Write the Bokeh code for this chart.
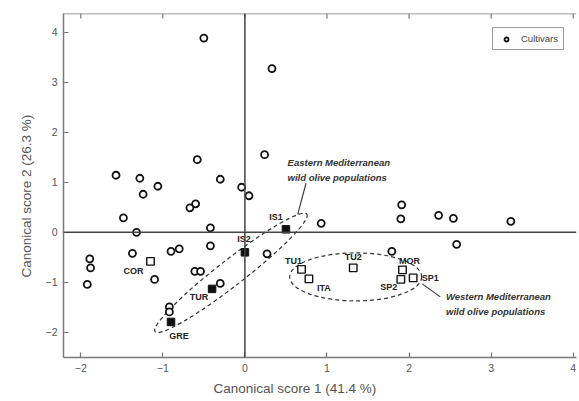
from bokeh.plotting import figure
from bokeh.models import (Span, Label, Title, LinearAxis, Legend, LegendItem,
                          Range1d, FixedTicker)
from bokeh.core.properties import value
from bokeh.embed import file_html
from bokeh.resources import INLINE

# ---- data ----
cult_x = [-0.50, 0.33, 0.24, -0.58, -1.57, -1.28, -0.30, -1.06, -0.04, -1.24, 0.05,
          1.91, -0.60, -0.67, -1.48, 1.90, 2.36, 2.54, 3.24, 0.93, -0.42, -1.32,
          2.58, -0.42, -1.37, -0.90, -0.80, 0.27, 1.79, -1.89, -1.88, -0.61, -0.54,
          -1.10, -1.92, -0.30, -0.92, -0.92]
cult_y = [3.88, 3.27, 1.55, 1.45, 1.14, 1.08, 1.06, 0.92, 0.90, 0.76, 0.73,
          0.55, 0.57, 0.49, 0.29, 0.27, 0.34, 0.28, 0.22, 0.18, 0.09, 0.00,
          -0.24, -0.27, -0.42, -0.38, -0.33, -0.43, -0.38, -0.53, -0.71, -0.78, -0.78,
          -0.94, -1.04, -1.02, -1.49, -1.59]

east_names = ["IS1", "IS2", "TUR", "GRE"]
east_x = [0.50, 0.00, -0.40, -0.90]
east_y = [0.06, -0.40, -1.13, -1.79]

west_names = ["COR", "TU1", "ITA", "TU2", "MOR", "SP2", "SP1"]
west_x = [-1.15, 0.69, 0.78, 1.32, 1.92, 1.90, 2.05]
west_y = [-0.58, -0.74, -0.93, -0.71, -0.75, -0.94, -0.91]

x_ticks = [-2, -1, 0, 1, 2, 3, 4]
y_ticks = [-2, -1, 0, 1, 2, 3, 4]
tick_overrides = {-2: "\u22122", -1: "\u22121"}

# label offsets (screen px) - styling only
east_dx = [-10, -1, -13, 8]
east_dy = [-12, -13, 8, 14]
west_dx = [-17, -8, 15, 0, 7, -12, 17]
west_dy = [10, -8, 9, -11, -9, 8, 0]

FONT = "Liberation Sans"
GRAY = "#555555"
AX = "#7a7a7a"
X0, X1 = -2.21, 4.04
Y0, Y1 = -2.5, 4.37

p = figure(width=579, height=401, output_backend="svg", toolbar_location=None,
           x_range=Range1d(X0, X1), y_range=Range1d(Y0, Y1),
           x_axis_location=None, y_axis_location=None,
           min_border_left=63, min_border_right=3, min_border_top=13,
           min_border_bottom=44)
p.outline_line_color = None
p.xgrid.grid_line_color = None
p.ygrid.grid_line_color = None
p.background_fill_color = "white"


def style_axis(ax):
    ax.axis_line_color = AX
    ax.axis_line_width = 1.5
    ax.major_tick_line_color = AX
    ax.major_tick_line_width = 1.2
    ax.major_tick_in = 5
    ax.major_tick_out = 0
    ax.minor_tick_line_color = None
    ax.major_label_text_font = FONT
    ax.major_label_text_font_size = "10.5px"
    ax.major_label_text_color = GRAY
    ax.major_label_standoff = 6
    ax.major_label_overrides = tick_overrides


xb = LinearAxis(ticker=FixedTicker(ticks=x_ticks))
style_axis(xb)
p.add_layout(xb, "below")
yl = LinearAxis(ticker=FixedTicker(ticks=y_ticks))
style_axis(yl)
p.add_layout(yl, "left")

# top frame line with inward ticks
p.add_layout(Span(location=Y1, dimension="width", line_color=AX, line_width=1.5))
tick_len = (Y1 - Y0) * 5 / 344
p.segment(x0=x_ticks, y0=[Y1] * len(x_ticks), x1=x_ticks, y1=[Y1 - tick_len] * len(x_ticks),
          line_color=AX, line_width=1.2)

p.add_layout(Title(text="Canonical score 1 (41.4 %)", align="left", offset=150,
                   text_font=FONT, text_font_size="13.5px", text_font_style="normal",
                   text_color=GRAY, standoff=9), "below")
p.add_layout(Title(text="Canonical score 2 (26.3 %)", align="left", offset=80,
                   text_font=FONT, text_font_size="13.5px", text_font_style="normal",
                   text_color=GRAY, standoff=18), "left")

# zero lines
p.add_layout(Span(location=0, dimension="height", line_color="#444444", line_width=1.5))
p.add_layout(Span(location=0, dimension="width", line_color="#444444", line_width=1.5))

# ellipses (dashed)
p.ellipse(x=[-0.17], y=[-0.81], width=[192], height=[26], angle=[0.66],
          width_units="screen", height_units="screen", fill_color=None,
          line_color="#333333", line_width=1.2, line_dash="4 3")
p.ellipse(x=[1.35], y=[-0.89], width=[132], height=[48], angle=[0.0],
          width_units="screen", height_units="screen", fill_color=None,
          line_color="#333333", line_width=1.2, line_dash="4 3")

# leader lines
p.segment(x0=[0.745, 2.16], y0=[0.98, -1.03], x1=[0.643, 2.38], y1=[0.36, -1.29],
          line_color="#333333", line_width=1.1)

# points
r_cult = p.scatter(cult_x, cult_y, marker="circle", size=7, fill_color="white",
                   line_color="#111111", line_width=1.8)
p.scatter(east_x, east_y, marker="square", size=7.5, fill_color="#111111",
          line_color="#111111", line_width=1)
p.scatter(west_x, west_y, marker="square", size=7.5, fill_color="white",
          line_color="#111111", line_width=1.4)

# point labels
for nx, ny, nn, dx, dy in [(east_x, east_y, east_names, east_dx, east_dy),
                           (west_x, west_y, west_names, west_dx, west_dy)]:
    p.text(x=nx, y=ny, text=nn, x_offset=dx, y_offset=dy,
           text_font=value(FONT), text_font_style="bold", text_font_size="9px",
           text_color="#222222", text_align="center", text_baseline="middle")

# group annotations
for txt, xx, yy in [("Eastern Mediterranean", 0.52, 1.40),
                    ("wild olive populations", 0.52, 1.10),
                    ("Western Mediterranean", 2.45, -1.28),
                    ("wild olive populations", 2.45, -1.58)]:
    p.add_layout(Label(x=xx, y=yy, text=txt, text_font=FONT, text_font_size="9.5px",
                       text_font_style="bold italic", text_color="#333333",
                       text_baseline="middle", text_align="left"))

legend = Legend(items=[LegendItem(label="Cultivars", renderers=[r_cult])],
                location=(429, 307), border_line_color="#333333", border_line_width=1,
                padding=5, spacing=0, margin=0, glyph_width=16, glyph_height=10,
                label_standoff=7, label_text_font=FONT, label_text_font_size="9.5px",
                label_text_color="#444444", background_fill_color="white")
p.add_layout(legend, "center")

open("out.html", "w").write(file_html(p, INLINE))
